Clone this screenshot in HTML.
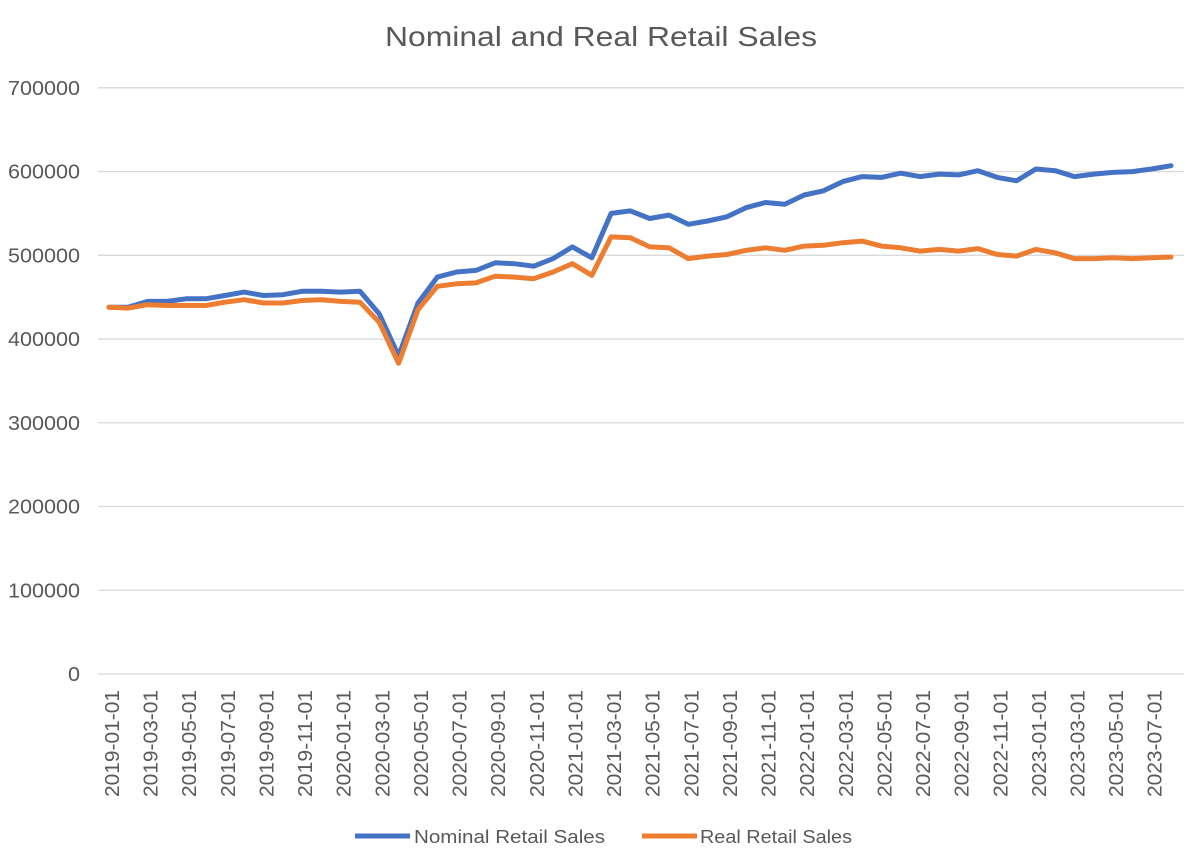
<!DOCTYPE html>
<html><head><meta charset="utf-8"><style>
body{margin:0;background:#fff;}
svg{display:block;font-family:"Liberation Sans",sans-serif;}
</style></head><body>
<svg id="c" width="1199" height="867" xmlns="http://www.w3.org/2000/svg">
<rect width="1199" height="867" fill="#fff"/>
<text x="385" y="46" font-size="28" fill="#595959" textLength="432" lengthAdjust="spacingAndGlyphs">Nominal and Real Retail Sales</text>
<g id="grid"></g>
<g id="xl"></g>
<polyline id="nom" fill="none" stroke="#4472C4" stroke-width="5" stroke-linejoin="round" stroke-linecap="round"/>
<polyline id="real" fill="none" stroke="#ED7D31" stroke-width="5" stroke-linejoin="round" stroke-linecap="round"/>
<line x1="355" y1="836" x2="410" y2="836" stroke="#4472C4" stroke-width="5"/>
<text x="414" y="843" font-size="18" fill="#595959" textLength="191" lengthAdjust="spacingAndGlyphs">Nominal Retail Sales</text>
<line x1="642" y1="836" x2="697" y2="836" stroke="#ED7D31" stroke-width="5"/>
<text x="700" y="843" font-size="18" fill="#595959" textLength="152" lengthAdjust="spacingAndGlyphs">Real Retail Sales</text>
</svg>
<script>
var N=[438,438,445,445,448,448,452,456,452,453,457,457,456,457,430,380,443,474,480,482,491,490,487,496,510,497,550,553,544,548,537,541,546,557,563,561,572,577,588,594,593,598,594,597,596,601,593,589,603,601,594,597,599,600,603,607];
var R=[438,437,441,440,440,440,444,447,443,443,446,447,445,444,420,371,435,463,466,467,475,474,472,480,490,476,522,521,510,509,496,499,501,506,509,506,511,512,515,517,511,509,505,507,505,508,501,499,507,503,496,496,497,496,497,498];
var ns="http://www.w3.org/2000/svg";
function X(i){return 109+i*19.31;}
function Y(v){return 674-v*0.8374;}
var g=document.getElementById('grid'),xl=document.getElementById('xl');
for(var k=0;k<=7;k++){var y=674-k*83.74;
 var l=document.createElementNS(ns,'line');l.setAttribute('x1',98);l.setAttribute('x2',1184);l.setAttribute('y1',y);l.setAttribute('y2',y);l.setAttribute('stroke','#d9d9d9');l.setAttribute('stroke-width','1.3');g.appendChild(l);
 var s=String(k*100000);
 var t=document.createElementNS(ns,'text');t.setAttribute('x',80-12*s.length);t.setAttribute('y',y+7);t.setAttribute('font-size','20');t.setAttribute('fill','#595959');t.setAttribute('textLength',12*s.length);t.setAttribute('lengthAdjust','spacingAndGlyphs');t.textContent=s;g.appendChild(t);}
for(var i=0;i<56;i+=2){var yr=2019+Math.floor(i/12),m=i%12+1;
 var t=document.createElementNS(ns,'text');var x=X(i)+10;
 t.setAttribute('transform','translate('+x+',797) rotate(-90)');t.setAttribute('font-size','20');t.setAttribute('fill','#595959');
 t.setAttribute('textLength','107');t.setAttribute('lengthAdjust','spacingAndGlyphs');
 t.textContent=yr+'-'+(m<10?'0':'')+m+'-01';xl.appendChild(t);}
function pts(a){return a.map(function(v,i){return X(i).toFixed(1)+','+Y(v).toFixed(1);}).join(' ');}
document.getElementById('nom').setAttribute('points',pts(N));
document.getElementById('real').setAttribute('points',pts(R));
</script>
</body></html>
